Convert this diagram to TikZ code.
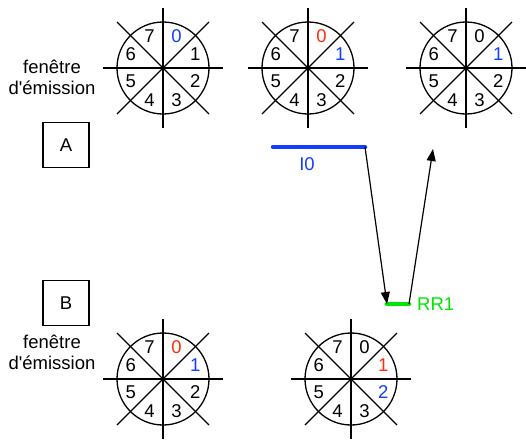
\documentclass[tikz,border=0pt]{standalone}
\usepackage{fontspec}
\setmainfont{Liberation Sans}
\usetikzlibrary{arrows.meta}

\definecolor{seqblue}{RGB}{20,60,255}
\definecolor{seqred}{RGB}{255,45,10}
\definecolor{seqgreen}{RGB}{0,230,0}

\tikzset{
  x=1pt, y=-1pt,
  every node/.style={font=\fontsize{18.5}{21}\selectfont, inner sep=0pt},
  wheel line/.style={line width=1.3pt, black},
  framebox/.style={draw, line width=1.2pt, minimum width=46pt, minimum height=45pt},
  caption/.style={align=center},
  flow/.style={line width=1.2pt, -{Triangle[length=12pt,width=9pt]}},
  seqbar/.style={line width=4.5pt, line cap=round},
  % sliding-window wheel: #1,#2,#3 are the colours of digits 0, 1 and 2
  pics/wheel/.style n args={3}{code={
    \draw[wheel line] (0,0) circle[radius=46pt];
    \draw[wheel line] (-60,0) -- (60,0);
    \draw[wheel line] (0,-60) -- (0,60);
    \draw[wheel line] (-46,-46) -- (46,46);
    \draw[wheel line] (-46,46) -- (46,-46);
    \node[text=#1] at (-67.5:35) {0};
    \node[text=#2] at (-22.5:35) {1};
    \node[text=#3] at (22.5:35) {2};
    \foreach \d/\a in {3/67.5, 4/112.5, 5/157.5, 6/-157.5, 7/-112.5}
      \node at (\a:35) {\d};
  }}
}

\begin{document}
\begin{tikzpicture}
\useasboundingbox (0,0) rectangle (526,440);

% emission windows of station A
\pic at (163,68) {wheel={seqblue}{black}{black}};
\pic at (308,68) {wheel={seqred}{seqblue}{black}};
\pic at (466,68) {wheel={black}{seqblue}{black}};
\node[caption] (capA) at (52,77) {fenêtre\\d\textquotesingle émission};

% emission windows of station B
\pic at (163,379) {wheel={seqred}{seqblue}{black}};
\pic at (351,379) {wheel={black}{seqred}{seqblue}};
\node[caption] (capB) at (52,352) {fenêtre\\d\textquotesingle émission};

% stations
\node[framebox] (A) at (66,145) {A};
\node[framebox] (B) at (66,303) {B};

% I frame sent by A
\coordinate (i0a) at (273,147);
\coordinate (i0b) at (365,147);
\draw[seqbar, seqblue] (i0a) -- (i0b);
\node[text=seqblue] (i0) at (307,164) {I0};

% RR acknowledgement sent by B
\coordinate (rr1a) at (387,304);
\coordinate (rr1b) at (409,304);
\draw[seqbar, seqgreen] (rr1a) -- (rr1b);
\node[text=seqgreen, anchor=west] (rr1) at (417,304) {RR1};

% frame exchange
\coordinate (back) at (433,149);
\draw[flow] (i0b) -- (rr1a);
\draw[flow] (rr1b) -- (back);
\end{tikzpicture}
\end{document}
